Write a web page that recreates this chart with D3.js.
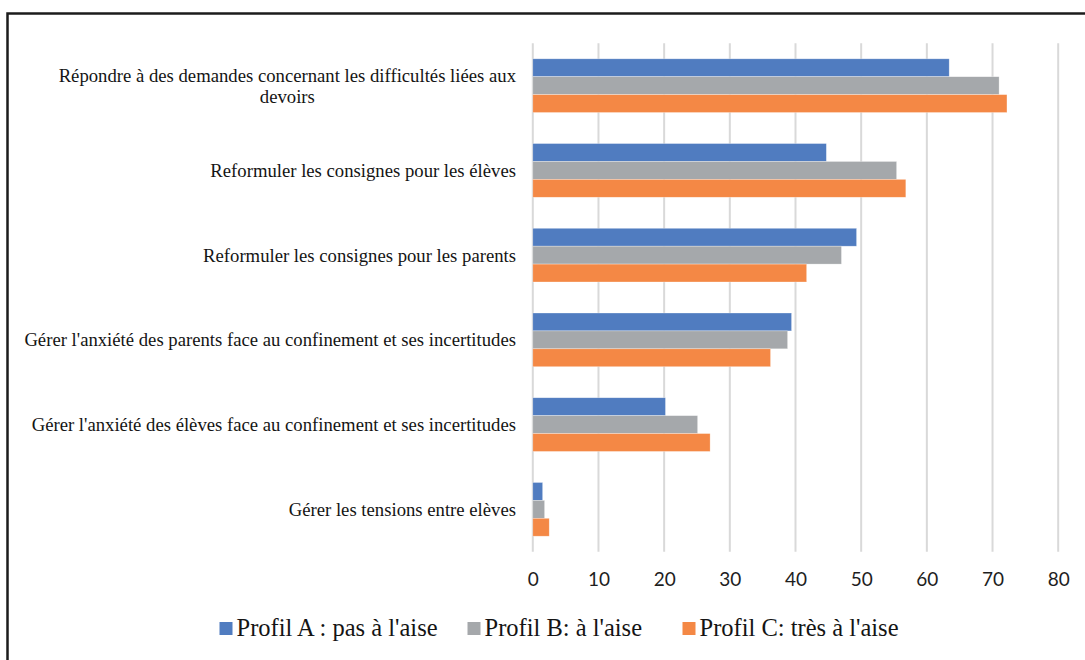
<!DOCTYPE html>
<html>
<head>
<meta charset="utf-8">
<script src="https://cdn.jsdelivr.net/npm/d3@7"></script>
<style>
  html, body { margin: 0; padding: 0; background: #fff; }
  svg { display: block; }
</style>
</head>
<body>
<svg id="chart" width="1085" height="660"></svg>
<script>
const categories = [
  "Répondre à des demandes concernant les difficultés liées aux devoirs",
  "Reformuler les consignes pour les élèves",
  "Reformuler les consignes pour les parents",
  "Gérer l'anxiété des parents face au confinement et ses incertitudes",
  "Gérer l'anxiété des élèves face au confinement et ses incertitudes",
  "Gérer les tensions entre elèves"
];
const seriesNames = ["Profil A : pas à l'aise", "Profil B: à l'aise", "Profil C: très à l'aise"];
const profilA = [63.4, 44.7, 49.3, 39.4, 20.2, 1.5];
const profilB = [71.0, 55.4, 47.0, 38.8, 25.1, 1.8];
const profilC = [72.2, 56.8, 41.7, 36.2, 27.0, 2.5];
const xTicks = [0, 10, 20, 30, 40, 50, 60, 70, 80];
const seriesColors = ["#507cc0", "#a5a8ab", "#f48845"];

const seriesValues = [profilA, profilB, profilC];
const svg = d3.select("#chart");

// Outer frame
svg.append("rect")
  .attr("x", 7.5).attr("y", 13.5)
  .attr("width", 1100).attr("height", 700)
  .attr("fill", "none").attr("stroke", "#1c1c1c").attr("stroke-width", 2.5);

const x = d3.scaleLinear().domain([0, 80]).range([532.8, 1058.2]);
const y = d3.scaleBand().domain(categories).range([43.3, 551.7])
  .paddingInner(0.366).paddingOuter(0.183);
const ys = d3.scaleBand().domain(seriesNames).range([0, y.bandwidth()]);

// Gridlines
svg.append("g").selectAll("line").data(xTicks).join("line")
  .attr("x1", d => x(d)).attr("x2", d => x(d))
  .attr("y1", 43.3).attr("y2", 551.7)
  .attr("stroke", "#d9d9d9").attr("stroke-width", 2);

// Bars
const groups = svg.append("g").selectAll("g").data(categories).join("g")
  .attr("transform", d => `translate(0,${y(d)})`);
groups.selectAll("rect")
  .data((c, i) => seriesNames.map((s, j) => ({ s, j, v: seriesValues[j][i] })))
  .join("rect")
  .attr("x", x(0))
  .attr("y", d => ys(d.s))
  .attr("width", d => x(d.v) - x(0))
  .attr("height", ys.bandwidth())
  .attr("fill", d => seriesColors[d.j])
  .attr("stroke", "#ffffff").attr("stroke-opacity", 0.5).attr("stroke-width", 0.6);

// X tick labels
const xAxis = d3.axisBottom(x).tickValues(xTicks).tickSize(0).tickPadding(0);
const ax = svg.append("g").attr("transform", "translate(0,572)").call(xAxis);
ax.select(".domain").remove();
ax.selectAll("text")
  .attr("font-family", "Lato, 'Open Sans', sans-serif")
  .attr("font-size", 19).attr("fill", "#1e1e1e");

// Category labels (wrap + Excel-like alignment)
const labelRight = 516;
const maxW = 505;
const lab = svg.append("g")
  .attr("font-family", "'Liberation Serif', 'Times New Roman', serif")
  .attr("font-size", 18.7).attr("fill", "#141414");
categories.forEach(c => {
  const cy = y(c) + y.bandwidth() / 2;
  const t = lab.append("text");
  const words = c.split(" ");
  const lines = [];
  let cur = [];
  const probe = lab.append("text");
  words.forEach(w => {
    const trial = cur.concat([w]).join(" ");
    probe.text(trial);
    if (probe.node().getComputedTextLength() > maxW && cur.length) {
      lines.push(cur.join(" "));
      cur = [w];
    } else cur.push(w);
  });
  lines.push(cur.join(" "));
  const w0 = Math.max(...lines.map(l => { probe.text(l); return probe.node().getComputedTextLength(); }));
  probe.remove();
  const lh = 21;
  const anchorX = lines.length > 1 ? labelRight - w0 / 2 : labelRight;
  t.attr("text-anchor", lines.length > 1 ? "middle" : "end");
  lines.forEach((l, k) => {
    t.append("tspan")
      .attr("x", anchorX)
      .attr("y", cy + (k - (lines.length - 1) / 2) * lh)
      .attr("dy", "0.35em")
      .text(l);
  });
});

// Legend
const legendX = [219.5, 467.5, 682.5];
const leg = svg.append("g");
seriesNames.forEach((s, j) => {
  leg.append("rect")
    .attr("x", legendX[j]).attr("y", 622)
    .attr("width", 13).attr("height", 13)
    .attr("fill", seriesColors[j]);
  leg.append("text")
    .attr("x", legendX[j] + 17).attr("y", 636)
    .attr("font-family", "'Liberation Serif', 'Times New Roman', serif")
    .attr("font-size", 24.5).attr("fill", "#141414")
    .text(s);
});
</script>
</body>
</html>
